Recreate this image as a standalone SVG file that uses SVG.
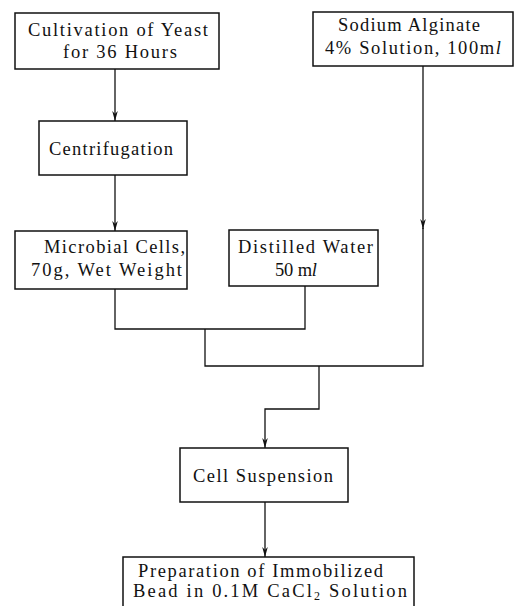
<svg xmlns="http://www.w3.org/2000/svg" width="515" height="606" viewBox="0 0 515 606">
<style>
.box{fill:#fff;stroke:#111;stroke-width:1.5}
.t{font-family:"Liberation Serif","Times New Roman",serif;font-size:18.5px;fill:#111}
.c{fill:none;stroke:#111;stroke-width:1.3}
</style>
<defs>
<marker id="a" markerUnits="userSpaceOnUse" markerWidth="11" markerHeight="6" refX="10" refY="3" orient="auto" viewBox="0 0 11 6">
<path d="M0,0.2 L10,3 L0,5.8 L3,3 Z" fill="#111"/>
</marker>
</defs>
<rect width="515" height="606" fill="#fff"/>
<g id="connectors">
<path class="c" d="M115,69 V121" marker-end="url(#a)"/>
<path class="c" d="M115,175 V231" marker-end="url(#a)"/>
<path class="c" d="M115,289 V329 H305 V286"/>
<path class="c" d="M205,329 V366 H423 V228"/>
<path class="c" d="M423,66 V229" marker-end="url(#a)"/>
<path class="c" d="M319,366 V409 H265 V448" marker-end="url(#a)"/>
<path class="c" d="M265,502 V557" marker-end="url(#a)"/>
</g>
<g id="cultivation">
<rect class="box" x="15" y="13" width="204" height="56"/>
<text class="t" x="28" y="36" textLength="180" lengthAdjust="spacing">Cultivation of Yeast</text>
<text class="t" x="63" y="58" textLength="114" lengthAdjust="spacing">for 36 Hours</text>
</g>
<g id="alginate">
<rect class="box" x="313" y="12" width="200" height="54"/>
<text class="t" x="338" y="31" textLength="142" lengthAdjust="spacing">Sodium Alginate</text>
<text class="t" x="325" y="54" textLength="176" lengthAdjust="spacing">4% Solution, 100m<tspan font-style="italic">l</tspan></text>
</g>
<g id="centrifugation">
<rect class="box" x="39" y="121" width="148" height="54"/>
<text class="t" x="49" y="155" textLength="124" lengthAdjust="spacing">Centrifugation</text>
</g>
<g id="cells">
<rect class="box" x="15" y="231" width="172" height="58"/>
<text class="t" x="44" y="253" textLength="141" lengthAdjust="spacing">Microbial Cells,</text>
<text class="t" x="31" y="276" textLength="151" lengthAdjust="spacing">70g, Wet Weight</text>
</g>
<g id="water">
<rect class="box" x="229" y="230" width="149" height="56"/>
<text class="t" x="238" y="253" textLength="135" lengthAdjust="spacing">Distilled Water</text>
<text class="t" x="275" y="276" textLength="42" lengthAdjust="spacing">50 m<tspan font-style="italic">l</tspan></text>
</g>
<g id="suspension">
<rect class="box" x="180" y="448" width="168" height="54"/>
<text class="t" x="193" y="482" textLength="140" lengthAdjust="spacing">Cell Suspension</text>
</g>
<g id="preparation">
<rect class="box" x="123" y="557" width="291" height="60"/>
<text class="t" x="138" y="577" textLength="245" lengthAdjust="spacing">Preparation of Immobilized</text>
<text class="t" x="133" y="597" textLength="274" lengthAdjust="spacing">Bead in 0.1M CaCl<tspan font-size="12" dy="3">2</tspan><tspan dy="-3"> Solution</tspan></text>
</g>
</svg>
